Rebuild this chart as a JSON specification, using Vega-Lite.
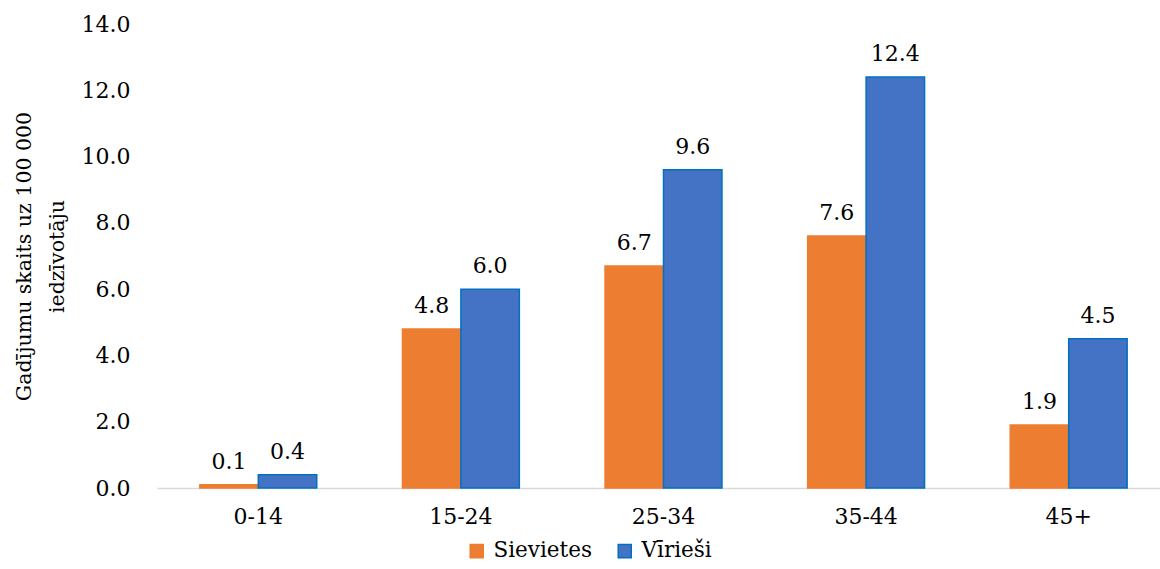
{
  "$schema": "https://vega.github.io/schema/vega-lite/v6.json",
  "autosize": "none",
  "width": 1013,
  "height": 464,
  "padding": {"left": 157, "top": 24, "right": 0, "bottom": 81},
  "config": {
    "font": "DejaVu Serif",
    "view": {"stroke": null},
    "axis": {"labelFont": "DejaVu Serif", "titleFont": "DejaVu Serif", "labelColor": "#000", "titleColor": "#000"},
    "legend": {"labelFont": "DejaVu Serif"},
    "text": {"font": "DejaVu Serif"}
  },
  "data": {
    "values": [
      {"age": "0-14", "sex": "Sievietes", "value": 0.1},
      {"age": "0-14", "sex": "Vīrieši", "value": 0.4},
      {"age": "15-24", "sex": "Sievietes", "value": 4.8},
      {"age": "15-24", "sex": "Vīrieši", "value": 6.0},
      {"age": "25-34", "sex": "Sievietes", "value": 6.7},
      {"age": "25-34", "sex": "Vīrieši", "value": 9.6},
      {"age": "35-44", "sex": "Sievietes", "value": 7.6},
      {"age": "35-44", "sex": "Vīrieši", "value": 12.4},
      {"age": "45+", "sex": "Sievietes", "value": 1.9},
      {"age": "45+", "sex": "Vīrieši", "value": 4.5}
    ]
  },
  "encoding": {
    "x": {
      "field": "age", "type": "nominal", "sort": null,
      "scale": {"paddingInner": 0.423, "paddingOuter": 0.2115},
      "axis": {"title": null, "labelAngle": 0, "labelFontSize": 22, "labelPadding": 18, "ticks": false, "domainColor": "#d9d9d9", "domainWidth": 1.5}
    },
    "xOffset": {"field": "sex", "type": "nominal", "sort": ["Sievietes", "Vīrieši"]},
    "y": {
      "field": "value", "type": "quantitative",
      "scale": {"domain": [0, 14]},
      "axis": {"title": ["Gadījumu skaits uz 100 000", "iedzīvotāju"], "titleFontSize": 20.5, "titleFontWeight": "normal", "titlePadding": 14, "titleLineHeight": 33, "titleLimit": 600, "labelFontSize": 22, "labelPadding": 27, "ticks": false, "domain": false, "grid": false, "values": [0, 2, 4, 6, 8, 10, 12, 14], "format": ".1f"}
    }
  },
  "layer": [
    {
      "mark": {"type": "bar", "strokeWidth": 1.5},
      "encoding": {
        "color": {
          "field": "sex", "type": "nominal", "sort": ["Sievietes", "Vīrieši"],
          "scale": {"domain": ["Sievietes", "Vīrieši"], "range": ["#ED7D31", "#4472C4"]},
          "legend": {"title": null, "orient": "none", "legendX": 309, "legendY": 516, "padding": 0, "direction": "horizontal", "symbolType": "square", "symbolSize": 170, "symbolStrokeWidth": 1.5, "labelFontSize": 21.5, "labelOffset": 6, "columnPadding": 22, "labelColor": "#000"}
        },
        "stroke": {
          "field": "sex", "type": "nominal",
          "scale": {"domain": ["Sievietes", "Vīrieši"], "range": ["#ED7D31", "#0070C0"]},
          "legend": null
        }
      }
    },
    {
      "mark": {"type": "text", "baseline": "alphabetic", "dy": -16, "fontSize": 22, "color": "#000", "font": "DejaVu Serif"},
      "encoding": {
        "text": {"field": "value", "type": "quantitative", "format": ".1f"}
      }
    }
  ]
}
